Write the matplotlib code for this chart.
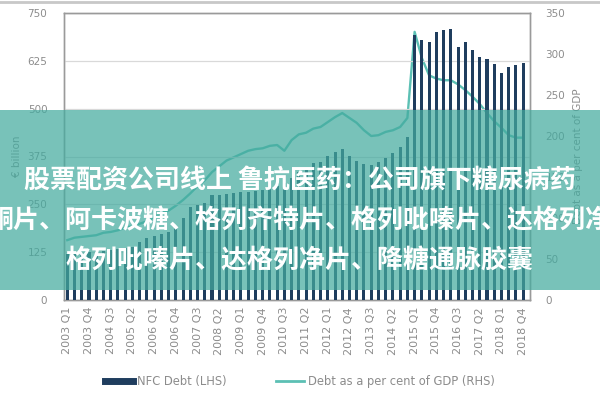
import numpy as np
import matplotlib
matplotlib.use("Agg")
import matplotlib.pyplot as plt
from matplotlib.lines import Line2D
from matplotlib.patches import Rectangle

# NFC debt, EUR billion (LHS), quarterly 2003 Q1 .. 2018 Q4
nfc_debt = [120, 121, 123, 125, 127, 129, 131, 133, 135, 138,
            152, 162, 167, 172, 178, 188, 214, 243, 248, 253,
            274, 274, 277, 280, 282, 282, 285, 287, 293, 298,
            306, 319, 334, 345, 358, 361, 376, 387, 395, 376,
            363, 355, 353, 361, 371, 384, 400, 426, 692, 679,
            673, 700, 706, 707, 661, 674, 653, 635, 630, 617,
            593, 609, 614, 619]

# Debt as a per cent of GDP (RHS)
debt_gdp = [73, 76, 77, 78, 79, 82, 83, 85, 88, 90,
            93, 96, 101, 106, 109, 115, 122, 130, 139, 146,
            156, 163, 170, 174, 178, 182, 184, 185, 188, 189,
            182, 195, 202, 204, 209, 211, 217, 223, 228, 222,
            216, 207, 200, 201, 205, 207, 211, 222, 327, 295,
            274, 270, 268, 268, 263, 256, 248, 239, 228, 218,
            210, 201, 198, 198]

tick_labels = ["2003 Q1", "2003 Q4", "2004 Q3", "2005 Q2", "2006 Q1", "2006 Q4",
               "2007 Q3", "2008 Q2", "2009 Q1", "2009 Q4", "2010 Q3", "2011 Q2",
               "2012 Q1", "2012 Q4", "2013 Q3", "2014 Q2", "2015 Q1", "2015 Q4",
               "2016 Q3", "2017 Q2", "2018 Q1", "2018 Q4"]

overlay_lines = ["股票配资公司线上 鲁抗医药：公司旗下糖尿病药",
                 "酮片、阿卡波糖、格列齐特片、格列吡嗪片、达格列净",
                 "格列吡嗪片、达格列净片、降糖通脉胶囊"]

NAVY = "#1f3d5e"
TEAL = "#5cc0b4"
GREY = "#8c8c8c"

fig = plt.figure(figsize=(6, 4), dpi=100)
ax = fig.add_axes([0.1067, 0.25, 0.7767, 0.7175])
ax2 = ax.twinx()

x = np.arange(len(nfc_debt))
ax2.plot(x, debt_gdp, color=TEAL, linewidth=1.7, zorder=1)
ax.bar(x, nfc_debt, width=0.42, color=NAVY, zorder=3)
ax.set_zorder(ax2.get_zorder() + 1)
ax.patch.set_visible(False)

ax.set_xlim(-0.45, 63.95)
ax.set_ylim(0, 750)
ax.set_yticks(np.arange(0, 751, 125))
ax2.set_ylim(0, 350)
ax2.set_yticks(np.arange(0, 351, 50))
ax.set_xticks(x[::3])
ax.set_xticklabels(tick_labels, rotation=90)

ax.grid(axis="y", color="#d9d9d9", linewidth=0.9, zorder=0)
ax.set_axisbelow(True)
for a in (ax, ax2):
    for s in a.spines.values():
        s.set_color("#9a9a9a")
        s.set_linewidth(1.0)
ax.tick_params(axis="y", length=0, pad=12, labelsize=7.5, labelcolor=GREY)
ax.tick_params(axis="x", length=0, pad=5, labelsize=8, labelcolor=GREY)
ax2.tick_params(axis="y", length=0, pad=11, labelsize=7.5, labelcolor=GREY)
ax.set_ylabel("€ billion", color=GREY, fontsize=7.5, labelpad=4)
ax2.set_ylabel("Debt as a per cent of GDP", color=GREY, fontsize=7.5, labelpad=6)

handles = [Line2D([0], [0], color=NAVY, linewidth=5),
           Line2D([0], [0], color=TEAL, linewidth=2)]
fig.legend(handles, ["NFC Debt (LHS)", "Debt as a per cent of GDP (RHS)"],
           loc="center", bbox_to_anchor=(0.5, 0.047), ncol=2, frameon=False,
           fontsize=8.3, labelcolor=GREY, handlelength=2.4, handletextpad=0.35,
           columnspacing=4.3)

# thin grey strip at the very top
fig.add_artist(Line2D([0, 1], [0.996, 0.996], color="#c8c8c8", linewidth=2,
                      transform=fig.transFigure))

# teal banner across the chart
fig.add_artist(Rectangle((0, 1 - 290 / 400), 1, 180 / 400, transform=fig.transFigure,
                         facecolor="#44ab9f", alpha=0.72, edgecolor="none", zorder=10))
for k, txt in enumerate(overlay_lines):
    fig.text(0.5, 1 - (181 + 40 * k) / 400, txt, ha="center", va="center",
             color="white", fontsize=18.7, fontweight="bold",
             family=["Noto Sans CJK SC", "DejaVu Sans"], zorder=11)

fig.savefig("out.png", dpi=100)
